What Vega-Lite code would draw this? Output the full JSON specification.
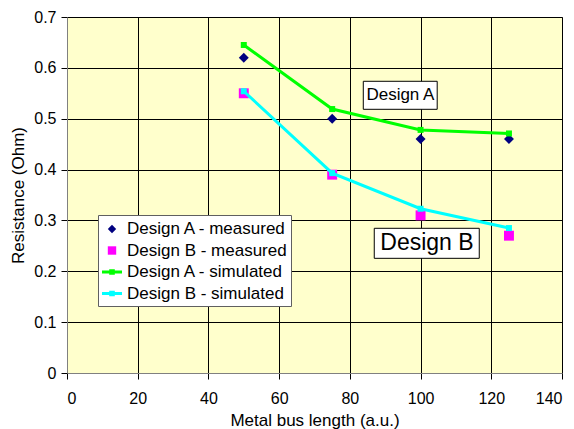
{
  "$schema": "https://vega.github.io/schema/vega-lite/v6.json",
  "width": 495,
  "height": 356,
  "autosize": {"type": "none"},
  "padding": {"left": 67, "top": 17, "right": 12, "bottom": 56},
  "background": "white",
  "config": {
    "font": "Liberation Sans",
    "view": {"fill": "#FFFFCC", "stroke": "#808080", "strokeWidth": 1},
    "axis": {
      "grid": true, "gridColor": "#000000", "gridOpacity": 1, "gridWidth": 1,
      "domainColor": "#808080", "tickColor": "#000000", "tickSize": 6,
      "labelFont": "Liberation Sans", "labelFontSize": 16, "labelColor": "#000000",
      "titleFont": "Liberation Sans", "titleFontSize": 17, "titleFontWeight": "normal", "titleColor": "#000000"
    }
  },
  "datasets": {
    "pts": [
      {"x": 50, "r": 0.62, "series": "Design A - measured"},
      {"x": 75, "r": 0.50, "series": "Design A - measured"},
      {"x": 100, "r": 0.46, "series": "Design A - measured"},
      {"x": 125, "r": 0.46, "series": "Design A - measured"},
      {"x": 50, "r": 0.55, "series": "Design B - measured"},
      {"x": 75, "r": 0.39, "series": "Design B - measured"},
      {"x": 100, "r": 0.31, "series": "Design B - measured"},
      {"x": 125, "r": 0.27, "series": "Design B - measured"},
      {"x": 50, "r": 0.645, "series": "Design A - simulated"},
      {"x": 75, "r": 0.519, "series": "Design A - simulated"},
      {"x": 100, "r": 0.478, "series": "Design A - simulated"},
      {"x": 125, "r": 0.471, "series": "Design A - simulated"},
      {"x": 50, "r": 0.554, "series": "Design B - simulated"},
      {"x": 75, "r": 0.393, "series": "Design B - simulated"},
      {"x": 100, "r": 0.323, "series": "Design B - simulated"},
      {"x": 125, "r": 0.285, "series": "Design B - simulated"}
    ],
    "notes": [
      {"label": "Design A", "x": 83.8, "x2": 104.7, "y": 0.5736, "y2": 0.5185, "tx": 94.3, "ty": 0.546},
      {"label": "Design B", "x": 86.9, "x2": 116.6, "y": 0.2845, "y2": 0.2255, "tx": 101.8, "ty": 0.255}
    ]
  },
  "layer": [
    {
      "data": {"name": "pts"},
      "transform": [{"filter": "indexof(datum.series, 'measured') >= 0"}],
      "mark": {"type": "point", "filled": true, "size": 560, "opacity": 1, "strokeWidth": 0},
      "encoding": {
        "x": {"field": "x", "type": "quantitative", "scale": {"domain": [0, 140], "nice": false},
              "axis": {"values": [0, 20, 40, 60, 80, 100, 120, 140], "title": "Metal bus length (a.u.)", "labelPadding": 11, "titlePadding": 6}},
        "y": {"field": "r", "type": "quantitative", "scale": {"domain": [0, 0.7], "nice": false},
              "axis": {"values": [0, 0.1, 0.2, 0.3, 0.4, 0.5, 0.6, 0.7], "format": "~g", "title": "Resistance (Ohm)", "labelPadding": 5, "titlePadding": 6}},
        "color": {"field": "series", "type": "nominal",
          "scale": {"domain": ["Design A - measured", "Design B - measured", "Design A - simulated", "Design B - simulated"],
                    "range": ["#000080", "#FF00FF", "#00FF00", "#00FFFF"]},
          "legend": {
            "title": null, "orient": "none", "legendX": 31, "legendY": 198,
            "fillColor": "white", "strokeColor": "#606060", "padding": 4,
            "labelFont": "Liberation Sans", "labelFontSize": 17, "labelColor": "#000000",
            "symbolSize": 400, "symbolStrokeWidth": 0, "rowPadding": 3.5, "labelOffset": 5
          }},
        "shape": {"field": "series", "type": "nominal",
          "scale": {"domain": ["Design A - measured", "Design B - measured", "Design A - simulated", "Design B - simulated"],
                    "range": ["M-0.42,0L0,-0.42L0.42,0L0,0.42Z", "M-0.42,-0.42H0.42V0.42H-0.42Z", "M-1,-0.14H1V0.14H-1Z M-0.28,-0.28H0.28V0.28H-0.28Z", "M-1,-0.14H1V0.14H-1Z M-0.28,-0.28H0.28V0.28H-0.28Z"]}}
      }
    },
    {
      "data": {"name": "pts"},
      "transform": [{"filter": "indexof(datum.series, 'simulated') >= 0"}],
      "mark": {"type": "line", "strokeWidth": 3},
      "encoding": {
        "x": {"field": "x", "type": "quantitative"},
        "y": {"field": "r", "type": "quantitative"},
        "color": {"field": "series", "type": "nominal"}
      }
    },
    {
      "data": {"name": "pts"},
      "transform": [{"filter": "indexof(datum.series, 'simulated') >= 0"}],
      "mark": {"type": "square", "size": 36, "opacity": 1},
      "encoding": {
        "x": {"field": "x", "type": "quantitative"},
        "y": {"field": "r", "type": "quantitative"},
        "color": {"field": "series", "type": "nominal"}
      }
    },
    {
      "data": {"name": "notes"},
      "mark": {"type": "rect", "fill": "white", "stroke": "#000000", "strokeWidth": 1},
      "encoding": {
        "x": {"field": "x", "type": "quantitative"},
        "x2": {"field": "x2"},
        "y": {"field": "y", "type": "quantitative"},
        "y2": {"field": "y2"}
      }
    },
    {
      "data": {"name": "notes"},
      "transform": [{"filter": "datum.label === 'Design A'"}],
      "mark": {"type": "text", "font": "Liberation Sans", "fontSize": 17, "color": "#000000", "align": "center", "baseline": "middle"},
      "encoding": {
        "x": {"field": "tx", "type": "quantitative"},
        "y": {"field": "ty", "type": "quantitative"},
        "text": {"field": "label"}
      }
    },
    {
      "data": {"name": "notes"},
      "transform": [{"filter": "datum.label === 'Design B'"}],
      "mark": {"type": "text", "font": "Liberation Sans", "fontSize": 23, "color": "#000000", "align": "center", "baseline": "middle"},
      "encoding": {
        "x": {"field": "tx", "type": "quantitative"},
        "y": {"field": "ty", "type": "quantitative"},
        "text": {"field": "label"}
      }
    }
  ]
}
